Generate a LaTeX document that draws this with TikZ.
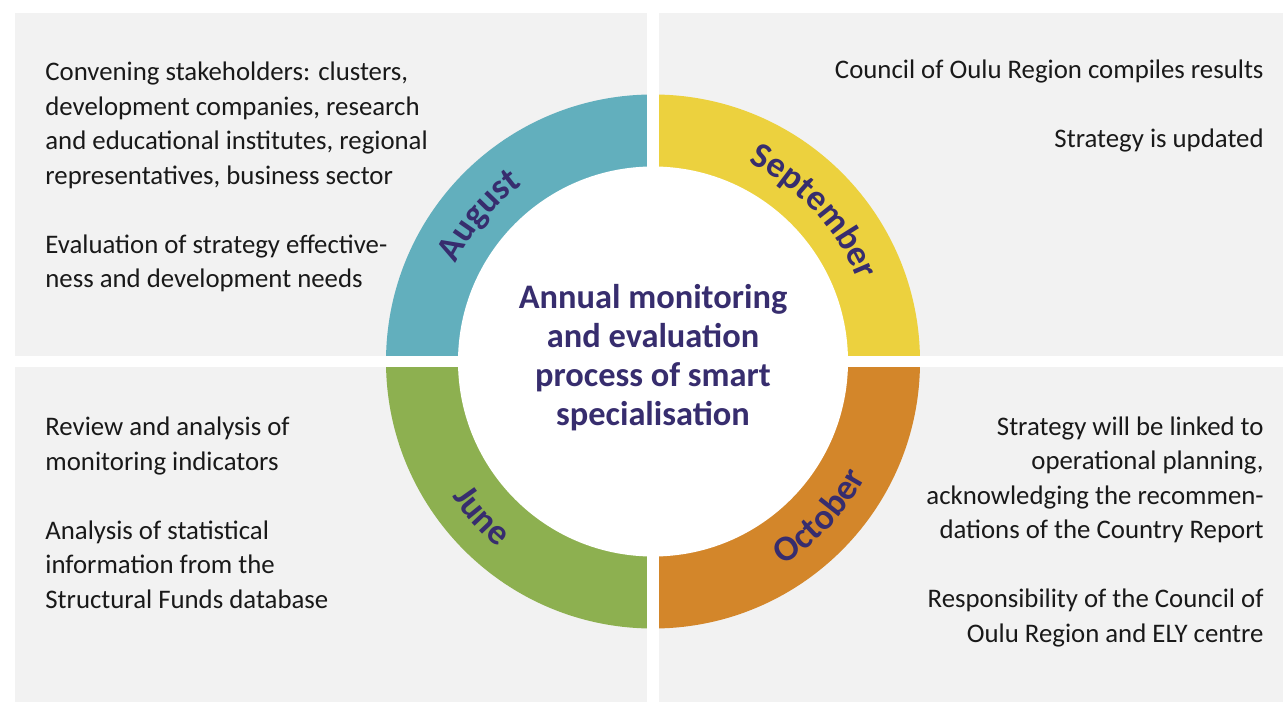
\documentclass[tikz,border=0pt]{standalone}
\usepackage{fontspec}
\setmainfont{Carlito}
\usetikzlibrary{decorations.text}
\definecolor{panelgrey}{HTML}{F2F2F2}
\definecolor{augteal}{HTML}{62AFBD}
\definecolor{sepyellow}{HTML}{ECD13E}
\definecolor{octorange}{HTML}{D3862A}
\definecolor{junegreen}{HTML}{8DB050}
\definecolor{titlepurple}{HTML}{372D6E}
\begin{document}
\begin{tikzpicture}[x=0.5pt, y=0.5pt,
    note/.style={inner sep=0pt, font=\fontsize{13.4}{17.25}\selectfont, text=black!90},
    month/.style={decorate, decoration={text along path, text align=center,
        text color=titlepurple, text={|\fontsize{18}{20}\selectfont\bfseries|#1}}}
    ]
    \useasboundingbox (0,0) rectangle (1283,702);
    \fill[panelgrey] (15,346) rectangle (647,689);
    \fill[panelgrey] (659,346) rectangle (1283,689);
    \fill[panelgrey] (15,0) rectangle (647,335);
    \fill[panelgrey] (659,0) rectangle (1283,335);
    \coordinate (c) at (653,340.5);
    \fill[augteal] (c) -- ++(180:267) arc[start angle=180, end angle=90, radius=267] -- cycle;
    \fill[sepyellow] (c) -- ++(90:267) arc[start angle=90, end angle=0, radius=267] -- cycle;
    \fill[octorange] (c) -- ++(0:267) arc[start angle=0, end angle=-90, radius=267] -- cycle;
    \fill[junegreen] (c) -- ++(-90:267) arc[start angle=-90, end angle=-180, radius=267] -- cycle;
    \fill[white] (647,0) rectangle (659,702);
    \fill[white] (0,335) rectangle (1283,346);
    \fill[white] (c) circle[radius=195];
    \path[month=August] (c) ++(185:220) arc[start angle=185, end angle=95, radius=220];
    \path[month=September] (c) ++(88:220) arc[start angle=88, end angle=-2, radius=220];
    \path[month=June] (c) ++(177:242) arc[start angle=177, end angle=267, radius=242];
    \path[month=October] (c) ++(272:242) arc[start angle=272, end angle=362, radius=242];
    \node[align=center, font=\fontsize{17.2}{19.5}\selectfont\bfseries, text=titlepurple] (title) at (653,344)
      {Annual monitoring\\ and evaluation\\ process of smart\\ specialisation};
    \node[note, anchor=base west, align=left] (augnote) at (45,414)
      {Convening stakeholders: clusters,\\ development companies, research\\ and educational institutes, regional\\
       representatives, business sector\\[17.25pt] Evaluation of strategy effective-\\ ness and development needs};
    \node[note, anchor=base east, align=right] (sepnote) at (1264,554)
      {Council of Oulu Region compiles results\\[17.25pt] Strategy is updated};
    \node[note, anchor=base west, align=left] (junenote) at (45,94)
      {Review and analysis of\\ monitoring indicators\\[17.25pt] Analysis of statistical\\
       information from the\\ Structural Funds database};
    \node[note, anchor=base east, align=right] (octnote) at (1264,60)
      {Strategy will be linked to\\ operational planning,\\ acknowledging the recommen-\\
       dations of the Country Report\\[17.25pt] Responsibility of the Council of\\ Oulu Region and ELY centre};
\end{tikzpicture}
\end{document}
